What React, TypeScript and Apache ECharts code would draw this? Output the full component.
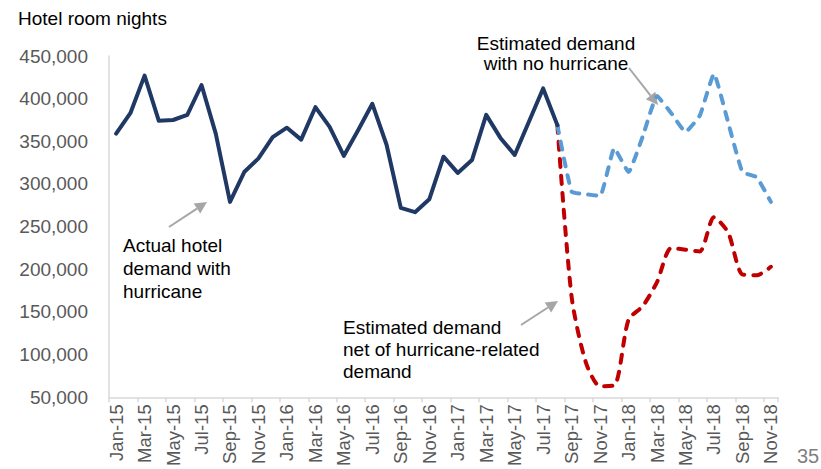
import React, { useEffect, useRef } from "react";
import * as echarts from "echarts";

const categories = [
  "Jan-15", "Feb-15", "Mar-15", "Apr-15", "May-15", "Jun-15", "Jul-15", "Aug-15", "Sep-15", "Oct-15", "Nov-15", "Dec-15",
  "Jan-16", "Feb-16", "Mar-16", "Apr-16", "May-16", "Jun-16", "Jul-16", "Aug-16", "Sep-16", "Oct-16", "Nov-16", "Dec-16",
  "Jan-17", "Feb-17", "Mar-17", "Apr-17", "May-17", "Jun-17", "Jul-17", "Aug-17", "Sep-17", "Oct-17", "Nov-17", "Dec-17",
  "Jan-18", "Feb-18", "Mar-18", "Apr-18", "May-18", "Jun-18", "Jul-18", "Aug-18", "Sep-18", "Oct-18", "Nov-18",
];

// Jan-15 .. Aug-17
const actualDemand = [
  359000, 383000, 427000, 374000, 375000, 381000, 416000, 359000, 279000, 314000, 330000, 355000,
  366000, 352000, 390000, 367000, 333000, 363000, 394000, 346000, 272000, 267000, 282000, 332000,
  313000, 328000, 381000, 354000, 334000, 373000, 412000, 369000,
];

// Aug-17 .. Nov-18
const noHurricaneDemand = [
  369000, 291000, 288000, 286000, 342000, 314000, 356000, 403000, 383000, 361000, 380000, 429000,
  372000, 314000, 308000, 279000,
];

// Aug-17 .. Nov-18
const netOfHurricaneDemand = [
  369000, 168000, 91000, 63000, 64000, 141000, 157000, 185000, 225000, 223000, 221000, 261000,
  243000, 194000, 193000, 203000,
];

const yMin = 50000;
const yMax = 450000;
const yInterval = 50000;

const FONT = "'Liberation Sans', Arial, sans-serif";

function arrow(x1: number, y1: number, x2: number, y2: number) {
  const dx = x2 - x1;
  const dy = y2 - y1;
  const len = Math.sqrt(dx * dx + dy * dy);
  const ux = dx / len;
  const uy = dy / len;
  const hl = 12;
  const hw = 6;
  const bx = x2 - ux * hl;
  const by = y2 - uy * hl;
  const px = -uy * hw;
  const py = ux * hw;
  return [
    {
      type: "line",
      shape: { x1, y1, x2: bx, y2: by },
      style: { stroke: "#A6A6A6", lineWidth: 2 },
      silent: true,
    },
    {
      type: "polygon",
      shape: { points: [[x2, y2], [bx + px, by + py], [bx - px, by - py]] },
      style: { fill: "#A6A6A6" },
      silent: true,
    },
  ];
}

function textEl(x: number, y: number, text: string, align: string, lh: number, fontSize = 19, fill = "#000000") {
  return {
    type: "text",
    x,
    y,
    style: {
      text,
      fill,
      font: `${fontSize}px ${FONT}`,
      align,
      verticalAlign: "middle",
      lineHeight: lh,
    },
    silent: true,
  };
}

export default function App() {
  const ref = useRef<HTMLDivElement>(null);

  useEffect(() => {
    if (!ref.current) return;
    const chart = echarts.init(ref.current, undefined, { renderer: "svg" });

    const startIdx = actualDemand.length - 1;
    const actualData = categories.map((_, i) => (i < actualDemand.length ? actualDemand[i] : null));
    const blueData = categories.map((_, i) => (i >= startIdx ? noHurricaneDemand[i - startIdx] : null));
    const redData = categories.map((_, i) => (i >= startIdx ? netOfHurricaneDemand[i - startIdx] : null));

    chart.setOption({
      animation: false,
      backgroundColor: "#ffffff",
      grid: { left: 109, right: 43, top: 56, bottom: 71, containLabel: false },
      xAxis: {
        type: "category",
        data: categories,
        boundaryGap: true,
        axisLine: { show: true, lineStyle: { color: "#D9D9D9", width: 1.5 } },
        axisTick: { show: true, interval: 1, length: 5, lineStyle: { color: "#D9D9D9", width: 1.5 } },
        axisLabel: {
          interval: 1,
          rotate: 90,
          fontSize: 18.5,
          fontFamily: FONT,
          color: "#595959",
          margin: 7,
        },
      },
      yAxis: {
        type: "value",
        min: yMin,
        max: yMax,
        interval: yInterval,
        splitLine: { show: false },
        axisTick: { show: false },
        axisLine: { show: true, lineStyle: { color: "#D9D9D9", width: 1.5 } },
        axisLabel: {
          fontSize: 19,
          fontFamily: FONT,
          color: "#595959",
          margin: 21,
          formatter: (v: number) => v.toLocaleString("en-US"),
        },
      },
      series: [
        {
          name: "Estimated demand net of hurricane-related demand",
          type: "line",
          data: redData,
          showSymbol: false,
          symbol: "none",
          smooth: 0.25,
          connectNulls: false,
          lineStyle: { color: "#C00000", width: 4, type: [8, 9], cap: "round" },
          z: 2,
        },
        {
          name: "Estimated demand with no hurricane",
          type: "line",
          data: blueData,
          showSymbol: false,
          symbol: "none",
          smooth: 0.12,
          lineStyle: { color: "#5B9BD5", width: 4, type: [8, 9], cap: "round" },
          z: 3,
        },
        {
          name: "Actual hotel demand with hurricane",
          type: "line",
          data: actualData,
          showSymbol: false,
          symbol: "none",
          lineStyle: { color: "#1F3864", width: 4, cap: "round", join: "round" },
          z: 4,
        },
      ],
      graphic: [
        textEl(18, 18, "Hotel room nights", "left", 22),
        textEl(123, 268, "Actual hotel\ndemand with\nhurricane", "left", 23),
        textEl(556, 53, "Estimated demand\nwith no hurricane", "center", 20),
        textEl(343, 349, "Estimated demand\nnet of hurricane-related\ndemand", "left", 22),
        textEl(797, 456, "35", "left", 22, 20, "#7F7F7F"),
        ...arrow(629, 68, 658, 105),
        ...arrow(169, 227, 207, 202),
        ...arrow(521, 325, 558, 301),
      ],
    });

    return () => chart.dispose();
  }, []);

  return <div ref={ref} style={{ width: 821, height: 469, position: "absolute", left: 0, top: 0 }} />;
}
